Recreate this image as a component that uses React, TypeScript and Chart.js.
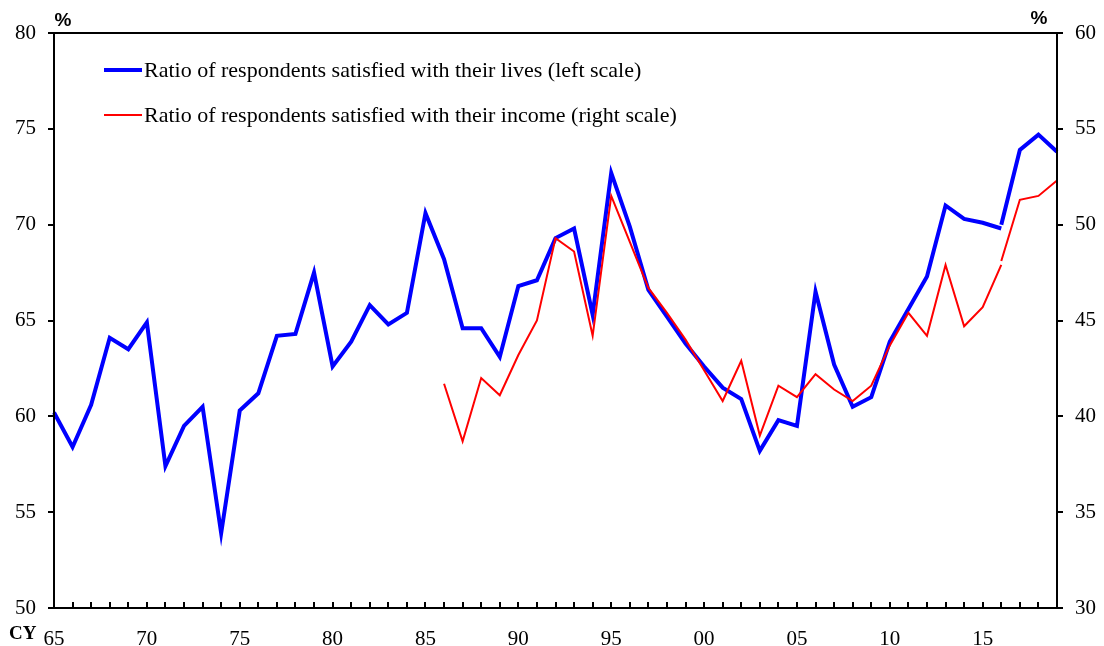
import React, { useEffect, useRef } from 'react';
import { Chart, registerables } from 'chart.js';

Chart.register(...registerables);

const years = [
  '1965', '1966', '1967', '1968', '1969', '1970', '1971', '1972', '1973', '1974',
  '1975', '1976', '1977', '1978', '1979', '1980', '1981', '1982', '1983', '1984',
  '1985', '1986', '1987', '1988', '1989', '1990', '1991', '1992', '1993', '1994',
  '1995', '1996', '1997', '1998', '1999', '2000', '2001', '2002', '2003', '2004',
  '2005', '2006', '2007', '2008', '2009', '2010', '2011', '2012', '2013', '2014',
  '2015', '2016', '2017', '2018', '2019',
];

// Ratio satisfied with lives (left scale), old survey basis 1965-2016
const livesOldStart = '1965';
const livesOld = [
  60.2, 58.4, 60.6, 64.1, 63.5, 64.9, 57.4, 59.5, 60.5, 53.9,
  60.3, 61.2, 64.2, 64.3, 67.5, 62.6, 63.9, 65.8, 64.8, 65.4,
  70.6, 68.2, 64.6, 64.6, 63.1, 66.8, 67.1, 69.3, 69.8, 65.3,
  72.7, 69.9, 66.6, 65.2, 63.8, 62.6, 61.5, 60.9, 58.2, 59.8,
  59.5, 66.5, 62.7, 60.5, 61.0, 63.9, 65.6, 67.3, 71.0, 70.3,
  70.1, 69.8,
];
// new survey basis 2016-2019
const livesNewStart = '2016';
const livesNew = [70.0, 73.9, 74.7, 73.8];

// Ratio satisfied with income (right scale)
const incomeOldStart = '1986';
const incomeOld = [
  41.7, 38.7, 42.0, 41.1, 43.2, 45.0, 49.3, 48.6, 44.2, 51.5,
  49.1, 46.7, 45.4, 44.0, 42.4, 40.8, 42.9, 39.0, 41.6, 41.0,
  42.2, 41.4, 40.8, 41.6, 43.7, 45.4, 44.2, 47.9, 44.7, 45.7,
  47.9,
];
const incomeNewStart = '2016';
const incomeNew = [48.1, 51.3, 51.5, 52.3];

const leftTicks = [50, 55, 60, 65, 70, 75, 80];
const rightTicks = [30, 35, 40, 45, 50, 55, 60];

const livesLabel = 'Ratio of respondents satisfied with their lives (left scale)';
const incomeLabel = 'Ratio of respondents satisfied with their income (right scale)';

const BLUE = '#0000FF';
const RED = '#FF0000';
const SERIF = '"Liberation Serif", "Times New Roman", serif';
const SANS = '"Liberation Sans", Arial, sans-serif';

function place(start: string, values: number[]): (number | null)[] {
  const idx = years.indexOf(start);
  return years.map((_, i) => {
    const k = i - idx;
    return k >= 0 && k < values.length ? values[k] : null;
  });
}

const decorPlugin = {
  id: 'decor',
  afterDatasetsDraw(chart: any) {
    const { ctx, chartArea } = chart;
    const { left, right, top, bottom } = chartArea;
    const xs = chart.scales.x;
    ctx.save();
    ctx.strokeStyle = '#000';
    ctx.lineWidth = 2;
    // inward x tick marks
    ctx.beginPath();
    for (let i = 0; i < years.length; i++) {
      const px = Math.round(xs.getPixelForValue(i));
      ctx.moveTo(px, bottom);
      ctx.lineTo(px, bottom - 6);
    }
    ctx.stroke();
    // frame
    ctx.strokeRect(left, top, right - left, bottom - top);
    ctx.restore();
  },
  afterDraw(chart: any) {
    const { ctx, chartArea } = chart;
    ctx.save();
    // legend
    const sw0 = 104;
    const sw1 = 142;
    const rows = [
      { label: livesLabel, color: BLUE, width: 4, y: 70 },
      { label: incomeLabel, color: RED, width: 2, y: 115 },
    ];
    for (const r of rows) {
      ctx.strokeStyle = r.color;
      ctx.lineWidth = r.width;
      ctx.beginPath();
      ctx.moveTo(sw0, r.y);
      ctx.lineTo(sw1, r.y);
      ctx.stroke();
      ctx.fillStyle = '#000';
      ctx.font = `22px ${SERIF}`;
      ctx.textAlign = 'left';
      ctx.textBaseline = 'middle';
      ctx.fillText(r.label, 144, r.y + 1);
    }
    // unit labels
    ctx.font = `bold 19px ${SANS}`;
    ctx.textAlign = 'center';
    ctx.textBaseline = 'middle';
    ctx.fillText('%', chartArea.left + 9, 21);
    ctx.fillText('%', chartArea.right - 18, 19);
    // CY
    ctx.font = `bold 19px ${SERIF}`;
    ctx.textAlign = 'left';
    ctx.textBaseline = 'alphabetic';
    ctx.fillText('CY', 9, 639);
    ctx.restore();
  },
};

export default function App() {
  const ref = useRef<HTMLCanvasElement | null>(null);

  useEffect(() => {
    if (!ref.current) return;
    const tickFont = { family: SERIF, size: 21 };
    const chart = new Chart(ref.current, {
      type: 'line',
      data: {
        labels: years,
        datasets: [
          {
            label: incomeLabel,
            data: place(incomeOldStart, incomeOld),
            borderColor: RED,
            borderWidth: 2,
            pointRadius: 0,
            yAxisID: 'yR',
            order: 0,
            spanGaps: false,
          },
          {
            label: incomeLabel + ' (new)',
            data: place(incomeNewStart, incomeNew),
            borderColor: RED,
            borderWidth: 2,
            pointRadius: 0,
            yAxisID: 'yR',
            order: 0,
            spanGaps: false,
          },
          {
            label: livesLabel,
            data: place(livesOldStart, livesOld),
            borderColor: BLUE,
            borderWidth: 4,
            pointRadius: 0,
            yAxisID: 'yL',
            order: 1,
            spanGaps: false,
          },
          {
            label: livesLabel + ' (new)',
            data: place(livesNewStart, livesNew),
            borderColor: BLUE,
            borderWidth: 4,
            pointRadius: 0,
            yAxisID: 'yL',
            order: 1,
            spanGaps: false,
          },
        ],
      },
      options: {
        animation: false,
        responsive: true,
        maintainAspectRatio: false,
        layout: { padding: { top: 33, left: 0, right: 0, bottom: 0 } },
        plugins: {
          legend: { display: false },
          tooltip: { enabled: false },
          title: { display: false },
        },
        elements: { line: { tension: 0 } },
        scales: {
          x: {
            type: 'category',
            offset: false,
            grid: { display: false },
            border: { display: false },
            ticks: {
              autoSkip: false,
              maxRotation: 0,
              minRotation: 0,
              padding: 11,
              color: '#000',
              font: tickFont,
              callback: (_v: any, i: number) => {
                const y = years[i];
                return Number(y) % 5 === 0 ? y.slice(2) : '';
              },
            },
            afterFit: (s: any) => {
              s.height = 38;
            },
          },
          yL: {
            type: 'linear',
            position: 'left',
            min: leftTicks[0],
            max: leftTicks[leftTicks.length - 1],
            afterBuildTicks: (s: any) => {
              s.ticks = leftTicks.map((v) => ({ value: v }));
            },
            grid: { drawOnChartArea: false, drawTicks: true, tickLength: 6, color: '#000', lineWidth: 2 },
            border: { display: false },
            ticks: { padding: 12, color: '#000', font: tickFont },
            afterFit: (s: any) => {
              s.width = 54;
            },
          },
          yR: {
            type: 'linear',
            position: 'right',
            min: rightTicks[0],
            max: rightTicks[rightTicks.length - 1],
            afterBuildTicks: (s: any) => {
              s.ticks = rightTicks.map((v) => ({ value: v }));
            },
            grid: { drawOnChartArea: false, drawTicks: true, tickLength: 6, color: '#000', lineWidth: 2 },
            border: { display: false },
            ticks: { padding: 12, color: '#000', font: tickFont },
            afterFit: (s: any) => {
              s.width = 47;
            },
          },
        },
      },
      plugins: [decorPlugin],
    });
    return () => chart.destroy();
  }, []);

  return (
    <div style={{ position: 'absolute', left: 0, top: 0, width: 1104, height: 646, background: '#fff' }}>
      <canvas ref={ref} />
    </div>
  );
}
